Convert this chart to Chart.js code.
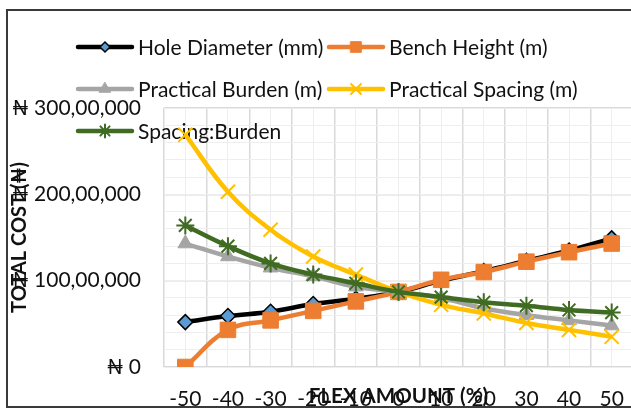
<!DOCTYPE html>
<html>
<head>
<meta charset="utf-8">
<script src="https://cdn.jsdelivr.net/npm/chart.js@4.4.1/dist/chart.umd.min.js"></script>
<style>
  html, body { margin: 0; padding: 0; background: #fff; overflow: hidden; }
  #wrap { position: relative; width: 645px; height: 410px; }
</style>
</head>
<body>
<div id="wrap"><canvas id="costChart"></canvas></div>
<script>
// === Data (values in Naira) ===
const flexAmount = ['-50', '-40', '-30', '-20', '-10', '0', '10', '20', '30', '40', '50'];
const holeDiameter = [5200000, 5900000, 6400000, 7300000, 7900000, 8700000, 10000000, 11100000, 12300000, 13500000, 14900000];
const benchHeight = [0, 4300000, 5400000, 6500000, 7600000, 8700000, 10100000, 11000000, 12200000, 13300000, 14300000];
const practicalBurden = [14300000, 12800000, 11500000, 10500000, 9300000, 8700000, 8000000, 6800000, 6000000, 5400000, 4800000];
const practicalSpacing = [26900000, 20300000, 15900000, 12800000, 10700000, 8700000, 7200000, 6200000, 5100000, 4300000, 3500000];
const spacingBurden = [16400000, 14000000, 12000000, 10700000, 9700000, 8700000, 8100000, 7500000, 7100000, 6600000, 6300000];
const seriesNames = ['Hole Diameter (mm)', 'Bench Height (m)', 'Practical Burden (m)', 'Practical Spacing (m)', 'Spacing:Burden'];
const yTickLabels = ['₦ 0', '₦ 100,00,000', '₦ 200,00,000', '₦ 300,00,000'];

const FONT = 'Lato, "Open Sans", sans-serif';
const TEXT = '#111';
const GRID_MAJOR = '#d9d9d9';
const GRID_MINOR = '#eeeeee';

// === Series styles (Excel-like) ===
const styles = [
  { line: '#000000', fill: '#5b9bd5', border: '#000000', style: 'rectRot', r: 7.5, bw: 1.5, lr: 5 },
  { line: '#ed7d31', fill: '#ed7d31', border: '#ed7d31', style: 'rect', r: 11, bw: 1, lr: 7.5 },
  { line: '#a5a5a5', fill: '#a5a5a5', border: '#a5a5a5', style: 'triangle', r: 8.5, bw: 1, lr: 6.5 },
  { line: '#ffc000', fill: '#ffc000', border: '#ffc000', style: 'crossRot', r: 10, bw: 2, lr: 7 },
  { line: '#3f6b22', fill: '#3f6b22', border: '#3f6b22', style: 'star', r: 9, bw: 2, lr: 6.5 }
];
const seriesData = [holeDiameter, benchHeight, practicalBurden, practicalSpacing, spacingBurden];

const datasets = seriesData.map((d, i) => ({
  label: seriesNames[i],
  data: d,
  borderColor: styles[i].line,
  backgroundColor: styles[i].fill,
  borderWidth: 4.5,
  tension: 0.4,
  fill: false,
  pointStyle: styles[i].style,
  pointRadius: styles[i].r,
  pointBackgroundColor: styles[i].fill,
  pointBorderColor: styles[i].border,
  pointBorderWidth: styles[i].bw,
  order: 5 - i
}));

// Legend positions: two columns, three rows, overlapping the plot like the original
const legendCols = [78, 329];
const legendRows = [47, 89, 131];

const frameAndLegend = {
  id: 'frameAndLegend',
  beforeDraw(chart) {
    const ctx = chart.ctx;
    ctx.save();
    ctx.fillStyle = '#ffffff';
    ctx.fillRect(0, 0, chart.width, chart.height);
    ctx.strokeStyle = '#3a3a3a';
    ctx.lineWidth = 2;
    ctx.strokeRect(7, 10, chart.width + 20, 397);
    ctx.restore();
  },
  beforeDatasetsDraw(chart) {
    const ctx = chart.ctx;
    ctx.save();
    seriesNames.forEach((name, i) => {
      const x = legendCols[i % 2];
      const y = legendRows[Math.floor(i / 2)];
      const s = styles[i];
      ctx.strokeStyle = s.line;
      ctx.lineWidth = 4.5;
      ctx.lineCap = 'round';
      ctx.beginPath();
      ctx.moveTo(x, y);
      ctx.lineTo(x + 54, y);
      ctx.stroke();
      ctx.fillStyle = s.fill;
      ctx.strokeStyle = s.border;
      ctx.lineWidth = s.bw;
      Chart.helpers.drawPoint(ctx, { pointStyle: s.style, radius: s.lr, rotation: 0, borderWidth: s.bw }, x + 27, y);
      ctx.fillStyle = TEXT;
      ctx.font = '21px ' + FONT;
      ctx.textAlign = 'left';
      ctx.textBaseline = 'middle';
      ctx.fillText(name, x + 60, y + 1);
    });
    ctx.restore();
  }
};

new Chart(document.getElementById('costChart').getContext('2d'), {
  type: 'line',
  data: { labels: flexAmount, datasets: datasets },
  options: {
    responsive: true,
    maintainAspectRatio: false,
    animation: false,
    devicePixelRatio: 1,
    layout: { padding: { top: 108, right: 10, bottom: 0, left: 0 } },
    plugins: {
      legend: { display: false },
      tooltip: { enabled: false }
    },
    scales: {
      x: {
        type: 'category',
        offset: true,
        z: 0,
        grid: { offset: true, color: GRID_MAJOR, lineWidth: 1.5, drawTicks: false },
        border: { display: false },
        ticks: { color: TEXT, padding: 20, maxRotation: 0, autoSkip: false, font: { family: FONT, size: 21 } },
        title: {
          display: true,
          text: 'FLEX AMOUNT (%)',
          color: TEXT,
          padding: { top: 0, bottom: 1 },
          font: { family: FONT, size: 20.5, weight: 'bold' }
        },
        afterFit(scale) { scale.height = 43; }
      },
      x2: {
        type: 'category',
        labels: flexAmount,
        position: 'bottom',
        offset: true,
        z: -1,
        grid: { offset: false, color: GRID_MINOR, lineWidth: 1, drawTicks: false },
        border: { display: false },
        ticks: { display: false },
        afterFit(scale) { scale.height = 0; }
      },
      y: {
        min: 0,
        max: 30000000,
        z: 0,
        grid: { color: GRID_MAJOR, lineWidth: 1.5, drawTicks: false },
        border: { display: false },
        ticks: {
          stepSize: 10000000,
          color: TEXT,
          padding: 23,
          font: { family: FONT, size: 21 },
          callback: (value, index) => yTickLabels[index]
        },
        title: {
          display: true,
          text: 'TOTAL COST (₦)',
          color: TEXT,
          padding: { top: 8, bottom: 0 },
          font: { family: FONT, size: 20, weight: 'bold' }
        },
        afterFit(scale) { scale.width = 164; }
      },
      y2: {
        position: 'left',
        min: 0,
        max: 30000000,
        z: -1,
        grid: { color: GRID_MINOR, lineWidth: 1, drawTicks: false },
        border: { display: false },
        ticks: { display: false, stepSize: 2000000 },
        afterFit(scale) { scale.width = 0; }
      }
    }
  },
  plugins: [frameAndLegend]
});
</script>
</body>
</html>
